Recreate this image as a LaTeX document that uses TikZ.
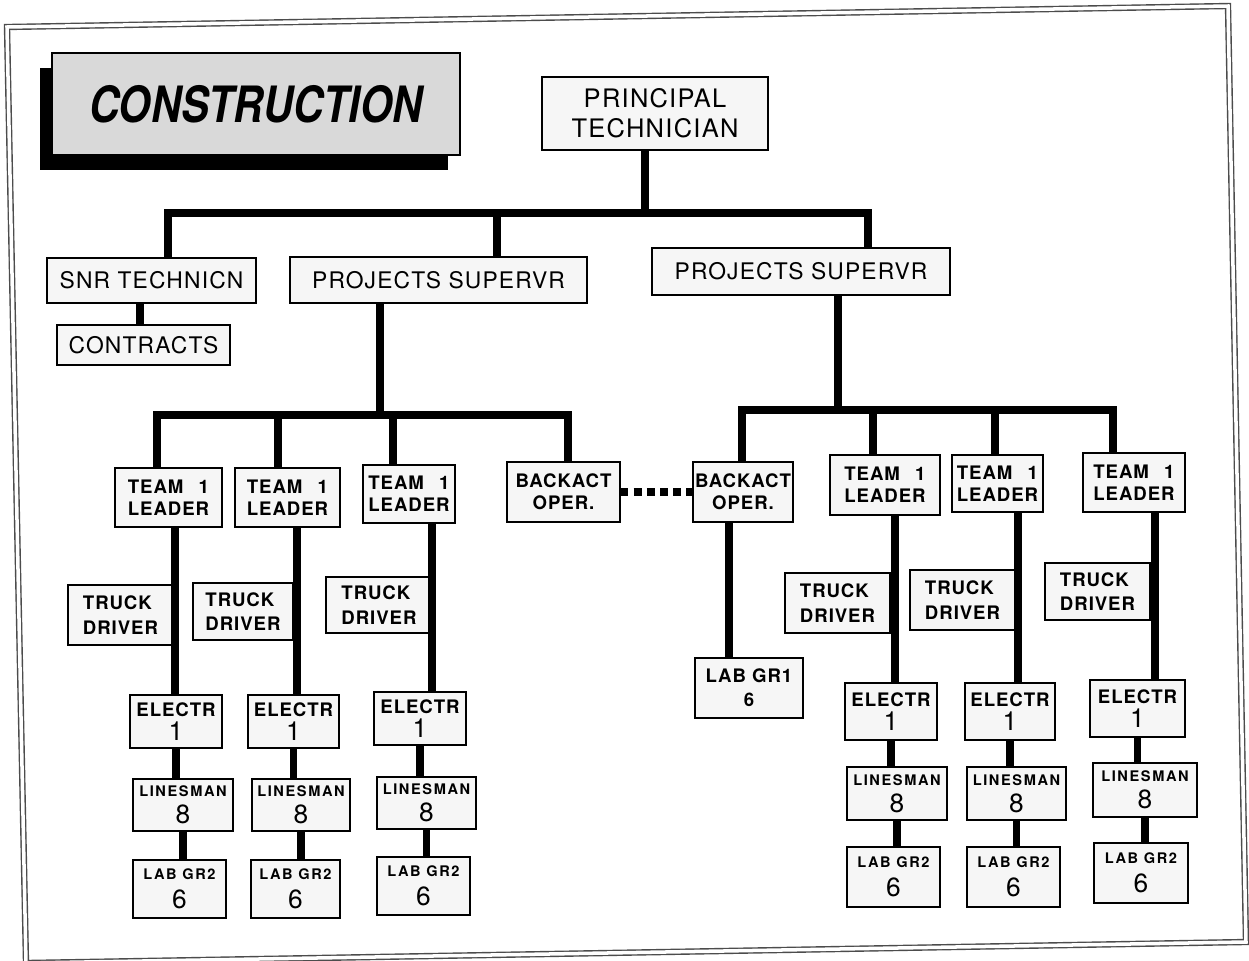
\documentclass[tikz,border=0pt]{standalone}
\usepackage{fontspec}
\setmainfont{TeX Gyre Heros}
\newfontfamily\boxfont[LetterSpace=5]{TeX Gyre Heros}
\newfontfamily\wideboxfont[LetterSpace=11]{TeX Gyre Heros}
\usetikzlibrary{shadows}

\newcommand{\teamlead}{\makebox[1.62cm][l]{TEAM\hfill 1}\\LEADER}
\newcommand{\bignum}[1]{{\mdseries\fontsize{15}{15}\selectfont #1}}

\tikzset{
  box/.style={draw, line width=0.6pt, fill=gray!7, inner sep=1pt, align=center},
  wh/.style 2 args={minimum width=#1*0.02cm, minimum height=#2*0.02cm},
  big/.style={font=\boxfont\fontsize{13}{16}\selectfont},
  mid/.style={font=\boxfont\bfseries\fontsize{10.6}{12.5}\selectfont},
  small/.style={font=\wideboxfont\bfseries\fontsize{8.3}{10}\selectfont},
  link/.style={line width=4pt},
  dotlink/.style={line width=4.5pt, dash pattern=on 4.5pt off 3pt},
  titlebox/.style={draw, line width=0.6pt, fill=gray!30,
    drop shadow={shadow xshift=-0.24cm, shadow yshift=-0.3cm, fill=black, opacity=1}},
}

\begin{document}
\begin{tikzpicture}[x=0.02cm, y=-0.02cm]
  \useasboundingbox (0,0) rectangle (1249,961);

  % frame
  \draw[double, double distance=2pt, line width=0.8pt, black!70]
    (7,27) -- (1228,6) -- (1246,942) -- (26,963) -- cycle;

  % title
  \node[titlebox, wh={408}{102}] (ttl) at (256,104)
    {\scalebox{0.83}[1]{\fontsize{28.5}{30}\selectfont\bfseries\itshape CONSTRUCTION}};

  % upper levels
  \node[box, wh={226}{73}, font=\boxfont\fontsize{14.5}{17}\selectfont] (pt) at (655,113.5) {PRINCIPAL\\TECHNICIAN};
  \node[box, big, wh={209}{45}] (snr) at (151.5,280.5) {SNR TECHNICN};
  \node[box, big, wh={173}{40}] (con) at (143.5,345) {CONTRACTS};
  \node[box, big, wh={297}{46}] (psl) at (438.5,280) {PROJECTS SUPERVR};
  \node[box, big, wh={298}{47}] (psr) at (801,271.5) {PROJECTS SUPERVR};

  % team leaders and backacts
  \node[box, mid, align=left, wh={107}{59}] (tl1) at (168.5,497.5) {\teamlead};
  \node[box, mid, align=left, wh={105}{59}] (tl2) at (287.5,497.5) {\teamlead};
  \node[box, mid, align=left, wh={92}{58}] (tl3) at (409,494) {\teamlead};
  \node[box, mid, wh={113}{60}] (ba1) at (563.5,492) {BACKACT\\OPER.};
  \node[box, mid, wh={100}{60}] (ba2) at (743,492) {BACKACT\\OPER.};
  \node[box, mid, align=left, wh={110}{60}] (tr1) at (885,485) {\teamlead};
  \node[box, mid, align=left, wh={91}{57}] (tr2) at (997.5,483.5) {\teamlead};
  \node[box, mid, align=left, wh={102}{59}] (tr3) at (1134,482.5) {\teamlead};

  % truck drivers
  \node[box, mid, align=left, wh={105}{60}] (dl1) at (120.5,615) {TRUCK\\[1.5pt]DRIVER};
  \node[box, mid, align=left, wh={100}{57}] (dl2) at (243,611.5) {TRUCK\\[1.5pt]DRIVER};
  \node[box, mid, align=left, wh={106}{56}] (dl3) at (379,605) {TRUCK\\[1.5pt]DRIVER};
  \node[box, mid, align=left, wh={105}{60}] (dr1) at (837.5,603) {TRUCK\\[1.5pt]DRIVER};
  \node[box, mid, align=left, wh={105}{60}] (dr2) at (962.5,600) {TRUCK\\[1.5pt]DRIVER};
  \node[box, mid, align=left, wh={105}{57}] (dr3) at (1097.5,591.5) {TRUCK\\[1.5pt]DRIVER};

  % lab gr1
  \node[box, mid, wh={108}{60}] (lg1) at (749,688) {LAB GR1\\[1pt]6};

  % electricians
  \node[box, mid, wh={92}{53}] (el1) at (176,721.5) {ELECTR\\[1pt]\bignum{1}};
  \node[box, mid, wh={91}{53}] (el2) at (293.5,721.5) {ELECTR\\[1pt]\bignum{1}};
  \node[box, mid, wh={92}{53}] (el3) at (420,718.5) {ELECTR\\[1pt]\bignum{1}};
  \node[box, mid, wh={92}{57}] (er1) at (891,711.5) {ELECTR\\[1pt]\bignum{1}};
  \node[box, mid, wh={90}{57}] (er2) at (1010,711.5) {ELECTR\\[1pt]\bignum{1}};
  \node[box, mid, wh={95}{57}] (er3) at (1137.5,708.5) {ELECTR\\[1pt]\bignum{1}};

  % linesmen
  \node[box, small, wh={100}{52}] (ln1) at (183,805) {LINESMAN\\[3.5pt]\bignum{8}};
  \node[box, small, wh={98}{52}] (ln2) at (301,805) {LINESMAN\\[3.5pt]\bignum{8}};
  \node[box, small, wh={99}{52}] (ln3) at (426.5,803) {LINESMAN\\[3.5pt]\bignum{8}};
  \node[box, small, wh={100}{53}] (nr1) at (897,793.5) {LINESMAN\\[3.5pt]\bignum{8}};
  \node[box, small, wh={99}{53}] (nr2) at (1016.5,793.5) {LINESMAN\\[3.5pt]\bignum{8}};
  \node[box, small, wh={104}{54}] (nr3) at (1145,790) {LINESMAN\\[3.5pt]\bignum{8}};

  % lab gr2
  \node[box, small, wh={93}{58}] (lb1) at (179.5,889) {LAB GR2\\[5pt]\bignum{6}};
  \node[box, small, wh={89}{58}] (lb2) at (295.5,889) {LAB GR2\\[5pt]\bignum{6}};
  \node[box, small, wh={93}{58}] (lb3) at (423.5,886) {LAB GR2\\[5pt]\bignum{6}};
  \node[box, small, wh={93}{60}] (br1) at (893.5,877) {LAB GR2\\[5pt]\bignum{6}};
  \node[box, small, wh={93}{60}] (br2) at (1013.5,877) {LAB GR2\\[5pt]\bignum{6}};
  \node[box, small, wh={94}{60}] (br3) at (1141,873) {LAB GR2\\[5pt]\bignum{6}};

  % top bus
  \coordinate (jt) at (645,213);
  \coordinate (jtl) at (168,213);
  \coordinate (jtm) at (497,213);
  \coordinate (jtr) at (868,213);
  \coordinate (sc) at (140,0);
  \draw[link] (pt.south -| jt) -- (jt);
  \draw[link] (snr.north -| jtl) -- (jtl) -- (jtr) -- (psr.north -| jtr);
  \draw[link] (jtm) -- (psl.north -| jtm);
  \draw[link] (snr.south -| sc) -- (con.north -| sc);

  % left bus
  \coordinate (bjl) at (380,415);
  \coordinate (bl1) at (157,415);
  \coordinate (bl2) at (278,415);
  \coordinate (bl3) at (393,415);
  \coordinate (bl4) at (568,415);
  \draw[link] (psl.south -| bjl) -- (bjl);
  \draw[link] (tl1.north -| bl1) -- (bl1) -- (bl4) -- (ba1.north -| bl4);
  \draw[link] (bl2) -- (tl2.north -| bl2);
  \draw[link] (bl3) -- (tl3.north -| bl3);

  % right bus
  \coordinate (bjr) at (838,410);
  \coordinate (br1c) at (742,410);
  \coordinate (br2c) at (873,410);
  \coordinate (br3c) at (995,410);
  \coordinate (br4c) at (1113,410);
  \draw[link] (psr.south -| bjr) -- (bjr);
  \draw[link] (ba2.north -| br1c) -- (br1c) -- (br4c) -- (tr3.north -| br4c);
  \draw[link] (br2c) -- (tr1.north -| br2c);
  \draw[link] (br3c) -- (tr2.north -| br3c);

  % backact link
  \draw[dotlink] (ba1.east) -- (ba2.west);

  % trunks
  \coordinate (t1) at (175,0);
  \coordinate (t2) at (297,0);
  \coordinate (t3) at (432,0);
  \coordinate (t4) at (729,0);
  \coordinate (t5) at (895,0);
  \coordinate (t6) at (1018,0);
  \coordinate (t7) at (1155,0);
  \draw[link] (tl1.south -| t1) -- (el1.north -| t1);
  \draw[link] (tl2.south -| t2) -- (el2.north -| t2);
  \draw[link] (tl3.south -| t3) -- (el3.north -| t3);
  \draw[link] (ba2.south -| t4) -- (lg1.north -| t4);
  \draw[link] (tr1.south -| t5) -- (er1.north -| t5);
  \draw[link] (tr2.south -| t6) -- (er2.north -| t6);
  \draw[link] (tr3.south -| t7) -- (er3.north -| t7);

  % short links
  \draw[link] (el1.south) -- (el1.south |- ln1.north);
  \draw[link] (ln1.south) -- (ln1.south |- lb1.north);
  \draw[link] (el2.south) -- (el2.south |- ln2.north);
  \draw[link] (ln2.south) -- (ln2.south |- lb2.north);
  \draw[link] (el3.south) -- (el3.south |- ln3.north);
  \draw[link] (ln3.south) -- (ln3.south |- lb3.north);
  \draw[link] (er1.south) -- (er1.south |- nr1.north);
  \draw[link] (nr1.south) -- (nr1.south |- br1.north);
  \draw[link] (er2.south) -- (er2.south |- nr2.north);
  \draw[link] (nr2.south) -- (nr2.south |- br2.north);
  \draw[link] (er3.south) -- (er3.south |- nr3.north);
  \draw[link] (nr3.south) -- (nr3.south |- br3.north);
\end{tikzpicture}
\end{document}
